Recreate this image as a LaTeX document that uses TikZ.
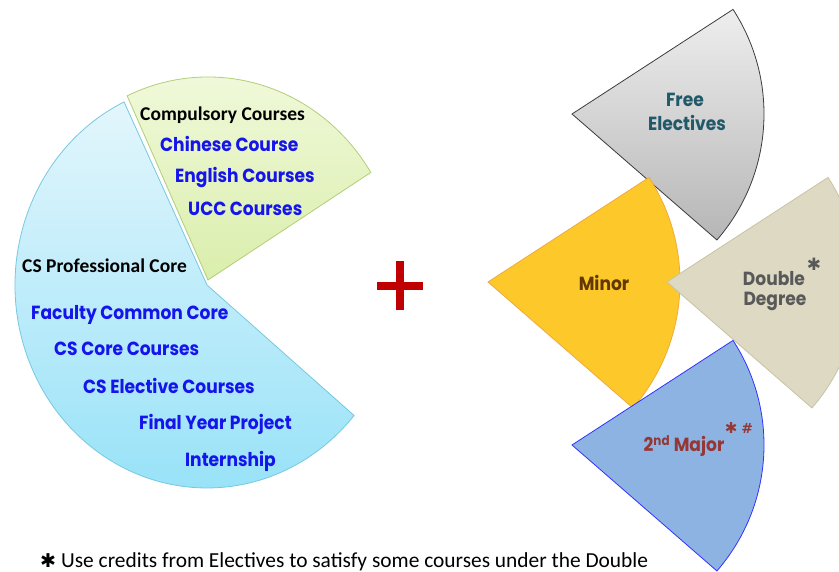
\documentclass[tikz,border=0pt]{standalone}
\usepackage{fontspec}
\newfontfamily\carl{Carlito}
\newfontfamily\gth{Poppins}[FakeStretch=0.9]
\newfontfamily\djv{DejaVu Sans}
\definecolor{txtblue}{RGB}{20,20,235}
\definecolor{pieblueT}{RGB}{227,246,252}
\definecolor{pieblueB}{RGB}{152,226,248}
\definecolor{pieblueE}{RGB}{120,200,225}
\definecolor{piegreenT}{RGB}{242,250,222}
\definecolor{piegreenB}{RGB}{218,238,172}
\definecolor{piegreenE}{RGB}{180,205,120}
\definecolor{grayT}{RGB}{238,238,238}
\definecolor{grayB}{RGB}{182,182,182}
\definecolor{grayE}{RGB}{60,60,60}
\definecolor{minorF}{RGB}{252,200,42}
\definecolor{minorE}{RGB}{240,170,60}
\definecolor{dblF}{RGB}{221,217,195}
\definecolor{dblE}{RGB}{200,195,165}
\definecolor{majF}{RGB}{141,179,226}
\definecolor{majE}{RGB}{50,50,255}
\definecolor{freeT}{RGB}{33,89,104}
\definecolor{minorT}{RGB}{96,56,0}
\definecolor{dblT}{RGB}{89,89,89}
\definecolor{majT}{RGB}{149,55,53}
\definecolor{plusred}{RGB}{192,0,0}
\tikzset{
  blbl/.style={anchor=base west,inner sep=0pt,text=txtblue,font=\gth\bfseries\fontsize{19}{19}\selectfont},
  hdr/.style={anchor=base west,inner sep=0pt,text=black,font=\carl\bfseries\fontsize{19.5}{19.5}\selectfont},
  slbl/.style={anchor=base,inner sep=0pt,font=\gth\bfseries\fontsize{19}{19}\selectfont},
  starmark/.style={anchor=center,inner sep=0pt,font=\djv},
  sector/.style={line width=0.8pt}
}
\begin{document}
\begin{tikzpicture}[x=1pt,y=1pt]
\clip (0,0) rectangle (839,572);
\fill[white] (0,0) rectangle (839,572);
% left pie
\path[sector,draw=pieblueE,top color=pieblueT,bottom color=pieblueB]
  (207,287) -- ++(115.6:192 and 203) arc[start angle=115.6,end angle=320,x radius=192,y radius=203] -- cycle;
\path[sector,draw=piegreenE,top color=piegreenT,bottom color=piegreenB]
  (208,292) -- ++(32:192 and 203) arc[start angle=32,end angle=114.9,x radius=192,y radius=203] -- cycle;
% right sectors
\path[sector,draw=grayE,top color=grayT,bottom color=grayB]
  (572,458) -- ++(33:192) arc[start angle=33,end angle=-41,radius=192] -- cycle;
\path[sector,draw=minorE,fill=minorF]
  (488,290) -- ++(33:192) arc[start angle=33,end angle=-41,radius=192] -- cycle;
\path[sector,draw=dblE,fill=dblF]
  (667,290) -- ++(33:192) arc[start angle=33,end angle=-41,radius=192] -- cycle;
\path[sector,draw=majE,fill=majF]
  (572,127) -- ++(33:192) arc[start angle=33,end angle=-41,radius=192] -- cycle;
% plus
\fill[plusred] (376.5,282) rectangle (422.5,290);
\fill[plusred] (395.5,261.5) rectangle (403.5,310.5);
% left texts
\node[hdr] (comp) at (140,451) {Compulsory Courses};
\node[blbl] (chin) at (160,420) {Chinese Course};
\node[blbl] (eng) at (175,389) {English Courses};
\node[blbl] (ucc) at (188,356) {UCC Courses};
\node[hdr] (csp) at (22,299) {CS Professional Core};
\node[blbl] (fac) at (31,252) {Faculty Common Core};
\node[blbl] (csc) at (54,216) {CS Core Courses};
\node[blbl] (cse) at (83,178) {CS Elective Courses};
\node[blbl] (fyp) at (139,142) {Final Year Project};
\node[blbl] (int) at (185,105) {Internship};
% right texts
\node[slbl,text=freeT] (free1) at (685,465.3) {Free};
\node[slbl,text=freeT] (free2) at (687,441) {Electives};
\node[slbl,text=minorT] (minor) at (604,281) {Minor};
\node[slbl,text=dblT] (dbl1) at (774,286) {Double};
\node[slbl,text=dblT] (dbl2) at (775,266.3) {Degree};
\node[starmark,text=dblT,font=\djv\fontsize{17}{17}\selectfont] (dblm) at (814,308) {✱};
\node[slbl,text=majT] (maj) at (684,120.3) {2\textsuperscript{nd} Major};
\node[starmark,text=majT,font=\djv\bfseries\fontsize{15}{15}\selectfont] (majm) at (739,144) {✱\hspace{4pt}{\fontsize{14}{14}\selectfont\#}};
% footnote
\node[anchor=base west,inner sep=0pt,font=\carl\fontsize{21.4}{21.4}\selectfont] (foot) at (40,4.3) {{\djv\fontsize{19}{19}\selectfont ✱}\hspace{5pt}Use credits from Electives to satisfy some courses under the Double};
\end{tikzpicture}
\end{document}
